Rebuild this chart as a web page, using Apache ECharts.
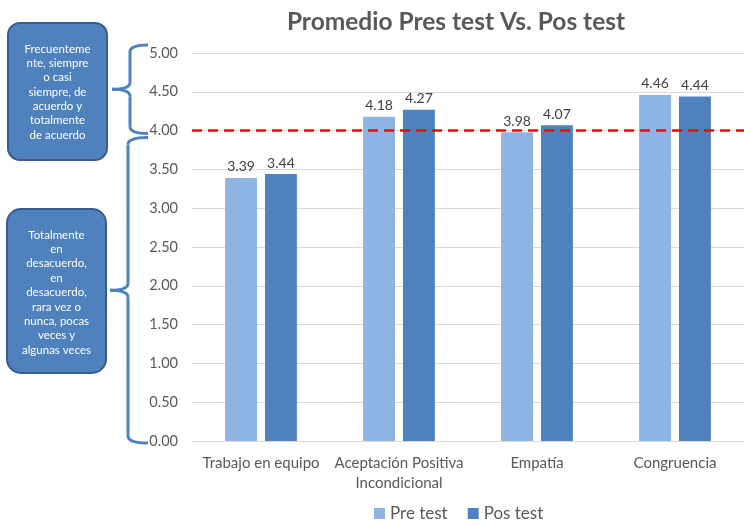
<!DOCTYPE html>
<html>
<head>
<meta charset="utf-8">
<script src="https://cdn.jsdelivr.net/npm/echarts@6/dist/echarts.min.js"></script>
<style>
html,body{margin:0;padding:0;background:#fff;}
#c{width:744px;height:525px;}
</style>
</head>
<body>
<div id="c"></div>
<script>
const categories = ['Trabajo en equipo', 'Aceptación Positiva\nIncondicional', 'Empatía', 'Congruencia'];
const preTest = [3.39, 4.18, 3.98, 4.46];
const posTest = [3.44, 4.27, 4.07, 4.44];
const yTicks = [0, 0.5, 1, 1.5, 2, 2.5, 3, 3.5, 4, 4.5, 5];
const threshold = 4;
const noteHigh = 'Frecuenteme\nnte, siempre\no casi\nsiempre, de\nacuerdo y\ntotalmente\nde acuerdo';
const noteLow = 'Totalmente\nen\ndesacuerdo,\nen\ndesacuerdo,\nrara vez o\nnunca, pocas\nveces y\nalgunas veces';

const FONT = 'Lato';
const chart = echarts.init(document.getElementById('c'), null, {renderer: 'canvas'});
const labelStyle = {show: true, position: 'top', color: '#404040', fontSize: 14, fontFamily: FONT, distance: 4,
  formatter: p => p.value.toFixed(2)};

chart.setOption({
  animation: false,
  textStyle: {fontFamily: FONT},
  title: {text: 'Promedio Pres test Vs. Pos test', left: 451, textAlign: 'center', top: 5,
    textStyle: {fontFamily: FONT, fontSize: 24.5, fontWeight: 'bold', color: '#595959'}},
  legend: {top: 500, left: 369, itemWidth: 11, itemHeight: 11, itemGap: 20,
    textStyle: {fontFamily: FONT, fontSize: 17, color: '#595959'}, icon: 'rect',
    data: ['Pre test', 'Pos test']},
  grid: {left: 192, right: -8, top: 53, bottom: 84, containLabel: false},
  xAxis: {type: 'category', data: categories,
    axisLine: {lineStyle: {color: '#d9d9d9'}}, axisTick: {show: false},
    axisLabel: {interval: 0, color: '#595959', fontSize: 15, fontFamily: FONT, margin: 12, lineHeight: 20}},
  yAxis: {type: 'value', min: yTicks[0], max: yTicks[yTicks.length - 1], interval: yTicks[1] - yTicks[0],
    axisLine: {show: false}, axisTick: {show: false},
    splitLine: {lineStyle: {color: '#d9d9d9'}},
    axisLabel: {color: '#595959', fontSize: 14.5, fontFamily: FONT, margin: 14, formatter: v => v.toFixed(2)}},
  series: [
    {name: 'Pre test', type: 'bar', data: preTest, barGap: '25%', barCategoryGap: '48%',
      itemStyle: {color: '#8EB4E3'}, label: labelStyle,
      markLine: {silent: true, symbol: 'none', label: {show: false},
        lineStyle: {color: '#FF0000', type: [10, 6], width: 2.5},
        data: [{yAxis: threshold}]}},
    {name: 'Pos test', type: 'bar', data: posTest,
      itemStyle: {color: '#4F81BD'}, label: labelStyle}
  ]
});

const braceStyle = {fill: null, stroke: '#4F81BD', lineWidth: 3};
function brace(xTip, xEnd, yTop, yBot) {
  const yMid = (yTop + yBot) / 2;
  const xs = xTip + 18;
  const r = 7;
  const parts = [];
  parts.push({type: 'bezierCurve', shape: {x1: xEnd, y1: yTop, x2: xs, y2: yTop + r, cpx1: xs, cpy1: yTop}, style: braceStyle});
  parts.push({type: 'line', shape: {x1: xs, y1: yTop + r, x2: xs, y2: yMid - r}, style: braceStyle});
  parts.push({type: 'bezierCurve', shape: {x1: xs, y1: yMid - r, x2: xTip, y2: yMid, cpx1: xs, cpy1: yMid}, style: braceStyle});
  parts.push({type: 'bezierCurve', shape: {x1: xTip, y1: yMid, x2: xs, y2: yMid + r, cpx1: xs, cpy1: yMid}, style: braceStyle});
  parts.push({type: 'line', shape: {x1: xs, y1: yMid + r, x2: xs, y2: yBot - r}, style: braceStyle});
  parts.push({type: 'bezierCurve', shape: {x1: xs, y1: yBot - r, x2: xEnd, y2: yBot, cpx1: xs, cpy1: yBot}, style: braceStyle});
  return parts;
}

const y5 = chart.convertToPixel({yAxisIndex: 0}, yTicks[yTicks.length - 1]);
const y4 = chart.convertToPixel({yAxisIndex: 0}, threshold);
const y0 = chart.convertToPixel({yAxisIndex: 0}, yTicks[0]);

chart.setOption({
  graphic: [].concat(
    brace(112, 148, y5 - 8, y4 + 3),
    brace(110, 148, y4 + 7, y0 + 2),
    [
    {type: 'rect', shape: {x: 8, y: 23, width: 99, height: 137, r: 12},
      style: {fill: '#4F81BD', stroke: '#385D8A', lineWidth: 2}},
    {type: 'text', x: 57.5, y: 92, style: {text: noteHigh, fill: '#ffffff', fontFamily: FONT, fontSize: 11.5,
      lineHeight: 14.3, align: 'center', verticalAlign: 'middle'}},
    {type: 'rect', shape: {x: 7, y: 209, width: 99, height: 164, r: 14},
      style: {fill: '#4F81BD', stroke: '#385D8A', lineWidth: 2}},
    {type: 'text', x: 56.5, y: 292.5, style: {text: noteLow, fill: '#ffffff', fontFamily: FONT, fontSize: 11.5,
      lineHeight: 14.4, align: 'center', verticalAlign: 'middle'}}
  ])
});
</script>
</body>
</html>
